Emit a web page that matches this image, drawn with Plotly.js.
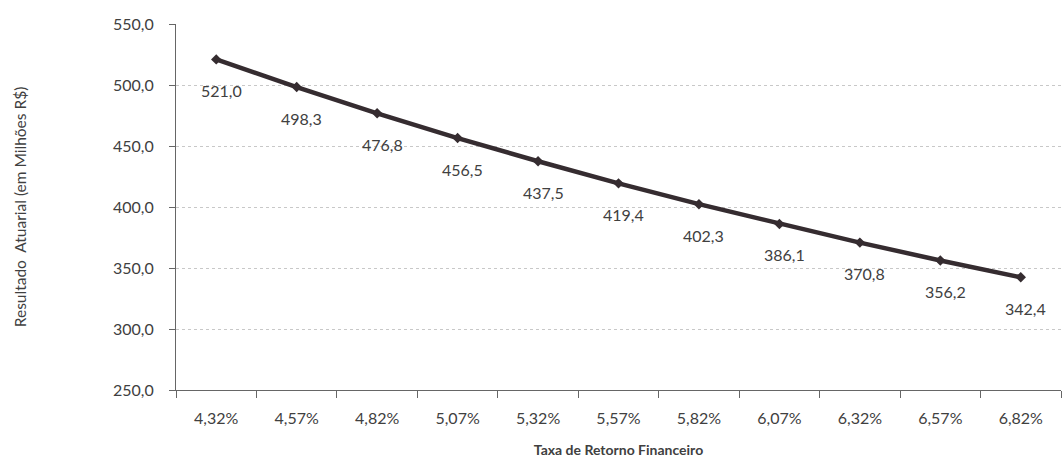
<!DOCTYPE html>
<html><head><meta charset="utf-8">
<script src="https://cdn.plot.ly/plotly-3.0.1.min.js"></script>
<style>body{margin:0;background:#fff}#chart{width:1062px;height:462px}</style>
</head><body><div id="chart"></div>
<script>
const categories = ["4,32%","4,57%","4,82%","5,07%","5,32%","5,57%","5,82%","6,07%","6,32%","6,57%","6,82%"];
const values = [521.0, 498.3, 476.8, 456.5, 437.5, 419.4, 402.3, 386.1, 370.8, 356.2, 342.4];
const yTickVals = [250, 300, 350, 400, 450, 500, 550];
const yTickText = ["250,0","300,0","350,0","400,0","450,0","500,0","550,0"];
const fmt = v => v.toFixed(1).replace('.', ',');

const font = "Lato, 'Open Sans', sans-serif";
const trace = {
  x: categories, y: values, type: 'scatter', mode: 'lines+markers',
  line: {color: '#352c30', width: 4.5},
  marker: {symbol: 'diamond', size: 8, color: '#352c30'},
  hoverinfo: 'none'
};
const annotations = categories.map((c, i) => ({
  x: c, y: values[i], xref: 'x', yref: 'y', text: fmt(values[i]),
  showarrow: false, yshift: -31, xshift: 5,
  font: {family: font, size: 16, color: '#404040'}
}));
const layout = {
  width: 1062, height: 462,
  margin: {l: 176, r: 1, t: 24, b: 72},
  paper_bgcolor: '#fff', plot_bgcolor: '#fff',
  showlegend: false,
  font: {family: font, color: '#404040', size: 16},
  xaxis: {
    type: 'category', range: [-0.5, 10.5], tickson: 'boundaries',
    ticks: 'outside', ticklen: 7, tickcolor: '#666', showline: true, linecolor: '#666',
    ticklabelstandoff: 14,
    showgrid: false, tickfont: {family: font, size: 16, color: '#404040'},
    title: {text: '<b>Taxa de Retorno Financeiro</b>', font: {family: font, size: 14, color: '#404040'}, standoff: 18}
  },
  yaxis: {
    range: [250, 550], tickvals: yTickVals, ticktext: yTickText,
    ticks: 'outside', ticklen: 6, tickcolor: '#666', showline: true, linecolor: '#666',
    ticklabelstandoff: 12,
    showgrid: true, gridcolor: '#c8c8c8', griddash: 'dot', gridwidth: 1, zeroline: false,
    tickfont: {family: font, size: 16, color: '#404040'},
    title: {text: 'Resultado  Atuarial (em Milhões R$)', font: {family: font, size: 15.5, color: '#404040'}, standoff: 82}
  },
  annotations: annotations
};
Plotly.newPlot('chart', [trace], layout, {staticPlot: true});
</script></body></html>
